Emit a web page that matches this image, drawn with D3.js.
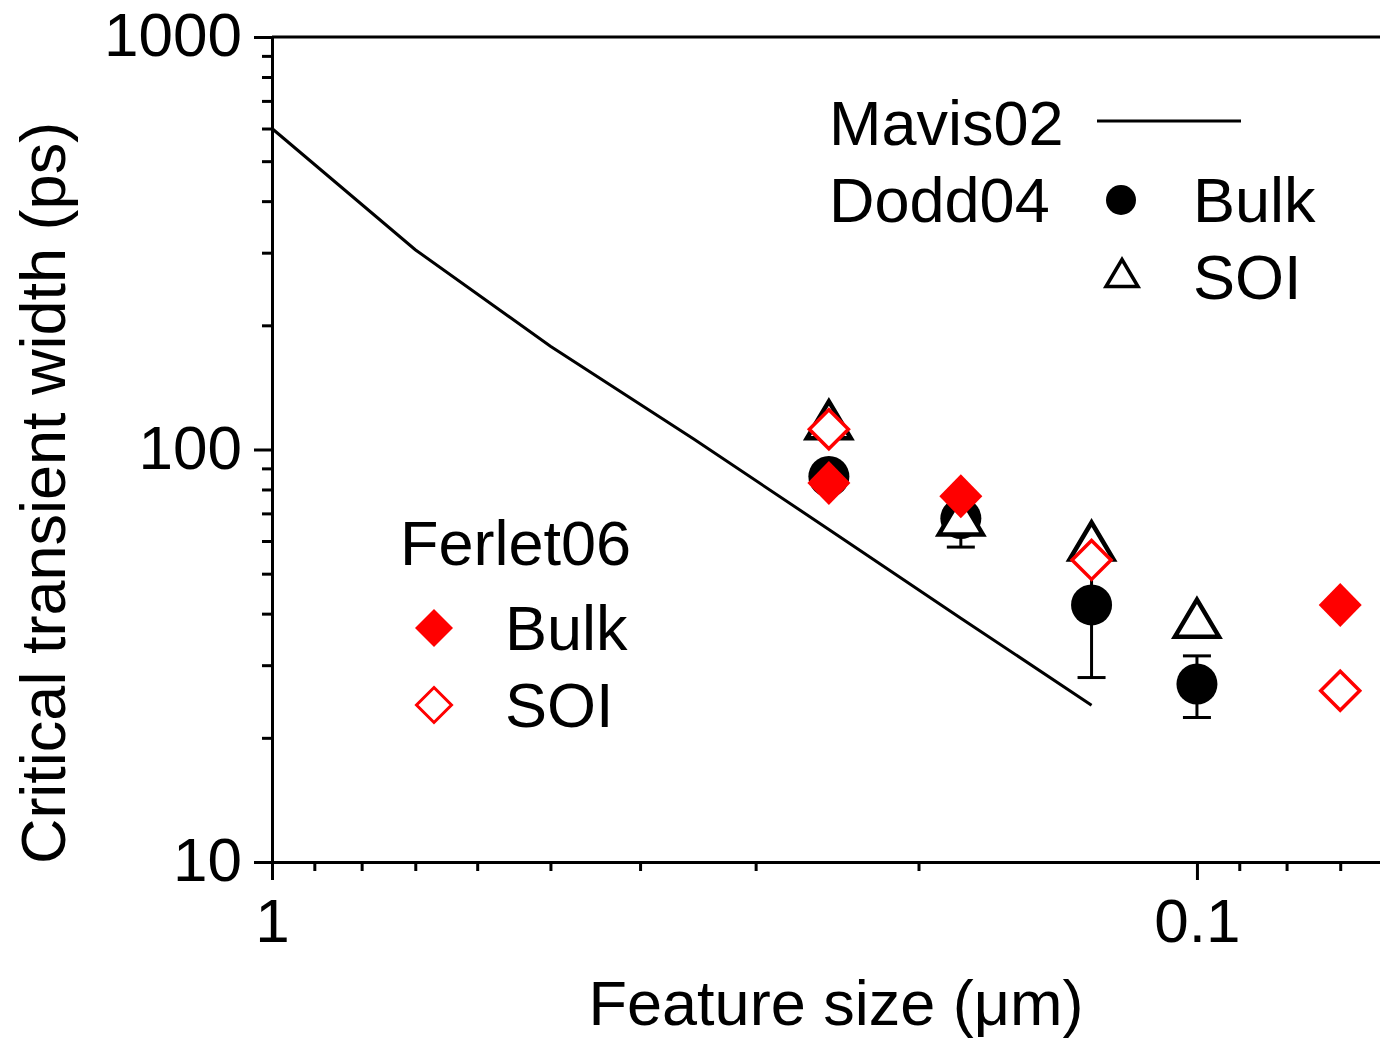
<!DOCTYPE html>
<html>
<head>
<meta charset="utf-8">
<script src="https://cdn.jsdelivr.net/npm/d3@7"></script>
<style>
  html, body { margin: 0; padding: 0; background: #fff; }
  svg { display: block; font-family: "Liberation Sans", Arial, sans-serif; }
</style>
</head>
<body>
<svg id="chart" width="1380" height="1038"></svg>
<script>
// Mavis02 model curve
const mavisSize = [1, 0.7, 0.5, 0.35, 0.25, 0.18, 0.13];
const mavisWidth = [600, 305, 178, 106, 64, 39, 24];

// Dodd04 measurements
const doddSize = [0.25, 0.18, 0.13, 0.1];
const doddBulk = [86, 68, 42, 27];
const doddBulkErr = [0, 10, 14, 4.6];
const doddSOI = [118, 69, 60, 39];

// Ferlet06 measurements
const ferletBulkSize = [0.25, 0.18, 0.07];
const ferletBulk = [83, 77, 42];
const ferletSOISize = [0.25, 0.13, 0.07];
const ferletSOI = [112, 54, 26];

// Axis ticks
const xMajor = [1, 0.1];
const xMajorLabels = ["1", "0.1"];
const xMinor = [0.9, 0.8, 0.7, 0.6, 0.5, 0.4, 0.3, 0.2, 0.09, 0.08, 0.07];
const yMajor = [10, 100, 1000];
const yMajorLabels = ["10", "100", "1000"];
const yMinor = [20, 30, 40, 50, 60, 70, 80, 90, 200, 300, 400, 500, 600, 700, 800, 900];

const svg = d3.select("#chart");
const plotLeft = 272, plotRight = 1380, plotTop = 37, plotBottom = 862;
const xEnd = 0.0634;

const x = d3.scaleLog().domain([1, xEnd]).range([plotLeft, plotRight]);
const y = d3.scaleLog().domain([10, 1000]).range([plotBottom, plotTop]);

const RED = "#ff0000";
const FS = 63;

// frame top line
svg.append("line").attr("x1", plotLeft).attr("x2", plotRight).attr("y1", plotTop).attr("y2", plotTop)
  .attr("stroke", "#000").attr("stroke-width", 3);

// axes
function styleAxis(g) {
  g.selectAll("path.domain").attr("stroke", "#000").attr("stroke-width", 3);
  g.selectAll(".tick line").attr("stroke", "#000").attr("stroke-width", 3);
  g.selectAll(".tick text").attr("fill", "#000").attr("font-size", 62)
    .attr("font-family", "'Liberation Sans', Arial, sans-serif");
}

const xAxisMajor = d3.axisBottom(x).tickValues(xMajor).tickSize(18).tickSizeOuter(0)
  .tickPadding(18).tickFormat((d, i) => xMajorLabels[i]);
const gx = svg.append("g").attr("transform", `translate(0,${plotBottom})`).call(xAxisMajor);
styleAxis(gx);
const gxm = svg.append("g").attr("transform", `translate(0,${plotBottom})`)
  .call(d3.axisBottom(x).tickValues(xMinor).tickSize(9).tickSizeOuter(0).tickFormat(""));
styleAxis(gxm);
gxm.select("path.domain").remove();

const yAxisMajor = d3.axisLeft(y).tickValues(yMajor).tickSize(18).tickSizeOuter(0)
  .tickPadding(12).tickFormat((d, i) => yMajorLabels[i]);
const gy = svg.append("g").attr("transform", `translate(${plotLeft},0)`).call(yAxisMajor);
styleAxis(gy);
gy.selectAll(".tick text").attr("dy", "0.3em");
const gym = svg.append("g").attr("transform", `translate(${plotLeft},0)`)
  .call(d3.axisLeft(y).tickValues(yMinor).tickSize(10).tickSizeOuter(0).tickFormat(""));
styleAxis(gym);
gym.select("path.domain").remove();

// axis titles
svg.append("text").attr("x", 836).attr("y", 1025).attr("text-anchor", "middle")
  .attr("font-size", FS).text("Feature size (μm)");
svg.append("text").attr("transform", "translate(65,493) rotate(-90)")
  .attr("text-anchor", "middle").attr("font-size", FS).text("Critical transient width (ps)");

// model curve
const line = d3.line().x(d => x(d[0])).y(d => y(d[1]));
svg.append("path").datum(mavisSize.map((s, i) => [s, mavisWidth[i]]))
  .attr("d", line).attr("fill", "none").attr("stroke", "#000").attr("stroke-width", 3);

// symbol shapes
function trianglePath(w, h) {
  return `M0,${-h / 2}L${w / 2},${h / 2}L${-w / 2},${h / 2}Z`;
}
function diamondPath(w, h) {
  return `M0,${-h / 2}L${w / 2},0L0,${h / 2}L${-w / 2},0Z`;
}

// Dodd04 bulk: error bars then circles
const doddBulkData = doddSize.map((s, i) => ({ s, v: doddBulk[i], e: doddBulkErr[i] }));
const eb = svg.append("g").attr("stroke", "#000").attr("stroke-width", 3);
doddBulkData.filter(d => d.e > 0).forEach(d => {
  const cx = x(d.s);
  eb.append("line").attr("x1", cx).attr("x2", cx).attr("y1", y(d.v + d.e)).attr("y2", y(d.v - d.e));
  [d.v + d.e, d.v - d.e].forEach(v => {
    eb.append("line").attr("x1", cx - 14).attr("x2", cx + 14).attr("y1", y(v)).attr("y2", y(v));
  });
});
svg.append("g").selectAll("circle").data(doddBulkData).join("circle")
  .attr("cx", d => x(d.s)).attr("cy", d => y(d.v)).attr("r", 20.5).attr("fill", "#000");

// Dodd04 SOI: open triangles
svg.append("g").selectAll("path").data(doddSize.map((s, i) => ({ s, v: doddSOI[i] }))).join("path")
  .attr("transform", d => `translate(${x(d.s)},${y(d.v)})`)
  .attr("d", trianglePath(44, 37)).attr("fill", "#fff").attr("stroke", "#000")
  .attr("stroke-width", 4.5).attr("stroke-linejoin", "miter");

// Ferlet06 bulk: filled diamonds
svg.append("g").selectAll("path").data(ferletBulkSize.map((s, i) => ({ s, v: ferletBulk[i] }))).join("path")
  .attr("transform", d => `translate(${x(d.s)},${y(d.v)})`)
  .attr("d", diamondPath(43, 44)).attr("fill", RED);

// Ferlet06 SOI: open diamonds
svg.append("g").selectAll("path").data(ferletSOISize.map((s, i) => ({ s, v: ferletSOI[i] }))).join("path")
  .attr("transform", d => `translate(${x(d.s)},${y(d.v)})`)
  .attr("d", diamondPath(39, 39)).attr("fill", "#fff").attr("stroke", RED).attr("stroke-width", 3.5);

// legends
const lg = svg.append("g").attr("font-size", FS).attr("fill", "#000");
lg.append("text").attr("x", 829).attr("y", 145).text("Mavis02");
lg.append("line").attr("x1", 1097).attr("x2", 1241).attr("y1", 121).attr("y2", 121)
  .attr("stroke", "#000").attr("stroke-width", 3);
lg.append("text").attr("x", 829).attr("y", 222).text("Dodd04");
lg.append("circle").attr("cx", 1121).attr("cy", 200).attr("r", 15).attr("fill", "#000");
lg.append("text").attr("x", 1193).attr("y", 222).text("Bulk");
lg.append("path").attr("transform", "translate(1122,273)").attr("d", trianglePath(32, 27))
  .attr("fill", "#fff").attr("stroke", "#000").attr("stroke-width", 3.5);
lg.append("text").attr("x", 1193).attr("y", 299).text("SOI");

lg.append("text").attr("x", 400).attr("y", 565).text("Ferlet06");
lg.append("path").attr("transform", "translate(434,628)").attr("d", diamondPath(38, 38)).attr("fill", RED);
lg.append("text").attr("x", 505).attr("y", 650).text("Bulk");
lg.append("path").attr("transform", "translate(434,705)").attr("d", diamondPath(35, 35))
  .attr("fill", "#fff").attr("stroke", RED).attr("stroke-width", 3);
lg.append("text").attr("x", 505).attr("y", 727).text("SOI");
</script>
</body>
</html>
